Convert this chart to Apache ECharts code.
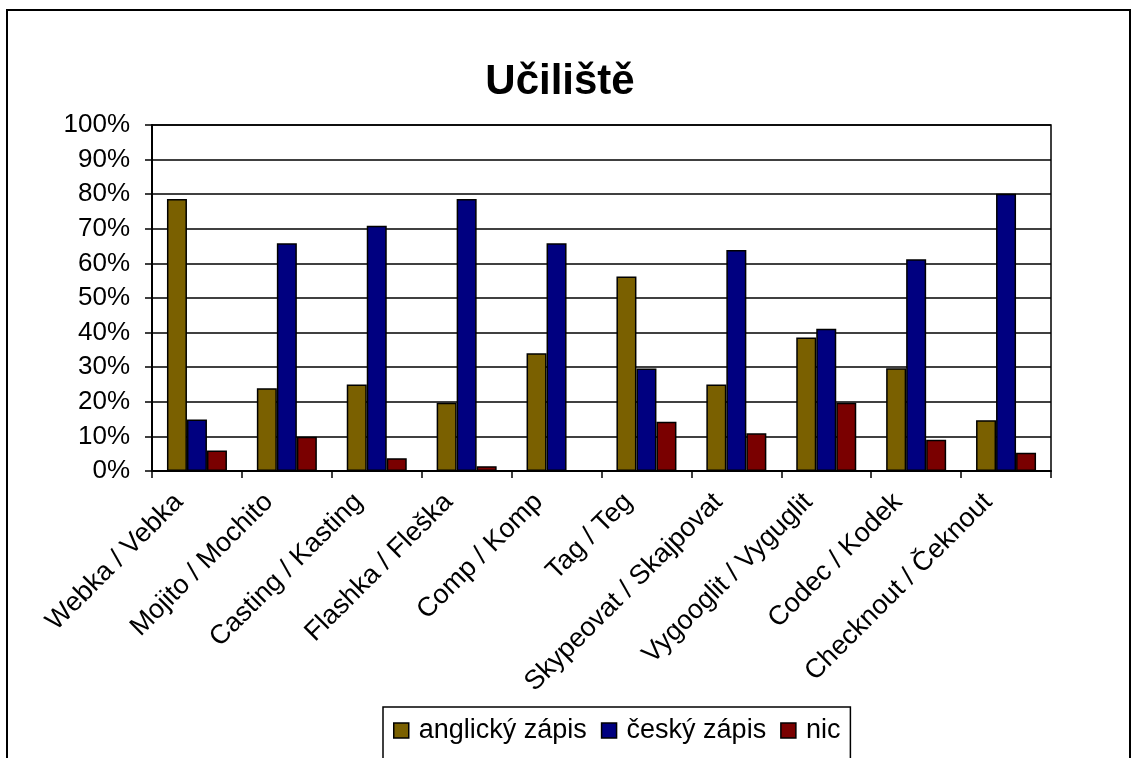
<!DOCTYPE html>
<html>
<head>
<meta charset="utf-8">
<script src="https://cdn.jsdelivr.net/npm/echarts@6/dist/echarts.min.js"></script>
<style>
html,body{margin:0;padding:0;background:#fff;}
#chart{width:1142px;height:758px;}
</style>
</head>
<body>
<div id="chart"></div>
<script>
const titleText = 'Učiliště';
const categories = ['Webka / Vebka','Mojito / Mochito','Casting / Kasting','Flashka / Fleška','Comp / Komp','Tag / Teg','Skypeovat / Skajpovat','Vygooglit / Vyguglit','Codec / Kodek','Checknout / Čeknout'];
const seriesNames = ['anglický zápis','český zápis','nic'];
const anglicky = [78.6, 23.9, 25.0, 19.7, 34.0, 56.2, 25.0, 38.6, 29.7, 14.7];
const cesky = [14.9, 65.8, 70.9, 78.6, 65.8, 29.6, 63.9, 41.1, 61.2, 80.1];
const nic = [5.9, 9.9, 3.7, 1.4, 0, 14.2, 10.9, 19.7, 9.0, 5.3];
const yTicks = {min: 0, max: 100, interval: 10};

const FONT = 'Liberation Sans, Arial, sans-serif';
const colors = ['#7a6000', '#000080', '#7a0000'];
const chart = echarts.init(document.getElementById('chart'), null, {renderer: 'canvas'});

function mkSeries(name, data, color) {
  return {
    name: name, type: 'bar', data: data,
    barWidth: 20, barGap: '0%',
    itemStyle: {color: color, borderColor: '#000', borderWidth: 1.5},
    emphasis: {disabled: true}
  };
}

chart.setOption({
  animation: false,
  backgroundColor: '#fff',
  color: colors,
  graphic: [
    {type: 'rect', shape: {x: 7, y: 10, width: 1123, height: 800}, style: {fill: 'none', stroke: '#000', lineWidth: 2}, z: -1}
  ],
  title: {
    text: titleText, left: 555, top: 56, textAlign: 'center',
    textStyle: {fontFamily: FONT, fontSize: 42, fontWeight: 'bold', color: '#000'}
  },
  legend: {
    left: 383, top: 707,
    padding: [10, 10, 30, 10],
    borderColor: '#000', borderWidth: 1.5,
    itemWidth: 15, itemHeight: 15, itemGap: 14,
    icon: 'rect',
    itemStyle: {borderColor: '#000', borderWidth: 1.5},
    textStyle: {fontFamily: FONT, fontSize: 27, color: '#000', padding: [0, 0, 0, 5]},
    data: seriesNames
  },
  grid: {
    left: 152, right: 91, top: 125, bottom: 287,
    show: true, borderColor: '#000', borderWidth: 1.5, backgroundColor: 'transparent'
  },
  xAxis: {
    type: 'category', data: categories,
    axisLine: {lineStyle: {color: '#000', width: 2}},
    axisTick: {show: true, length: 7, lineStyle: {color: '#000', width: 1.5}, alignWithLabel: false},
    axisLabel: {rotate: 45, margin: 28, interval: 0, fontFamily: FONT, fontSize: 27, color: '#000', verticalAlign: 'bottom', padding: [0, 12, 0, 0]}
  },
  yAxis: {
    type: 'value', min: yTicks.min, max: yTicks.max, interval: yTicks.interval,
    axisLine: {show: true, lineStyle: {color: '#000', width: 2}},
    axisTick: {show: true, length: 7, lineStyle: {color: '#000', width: 1.5}},
    splitLine: {show: true, lineStyle: {color: '#000', width: 1.5}},
    axisLabel: {margin: 22, fontFamily: FONT, fontSize: 26, color: '#000', formatter: '{value}%'}
  },
  series: [
    mkSeries(seriesNames[0], anglicky, colors[0]),
    mkSeries(seriesNames[1], cesky, colors[1]),
    mkSeries(seriesNames[2], nic, colors[2])
  ]
});
</script>
</body>
</html>
